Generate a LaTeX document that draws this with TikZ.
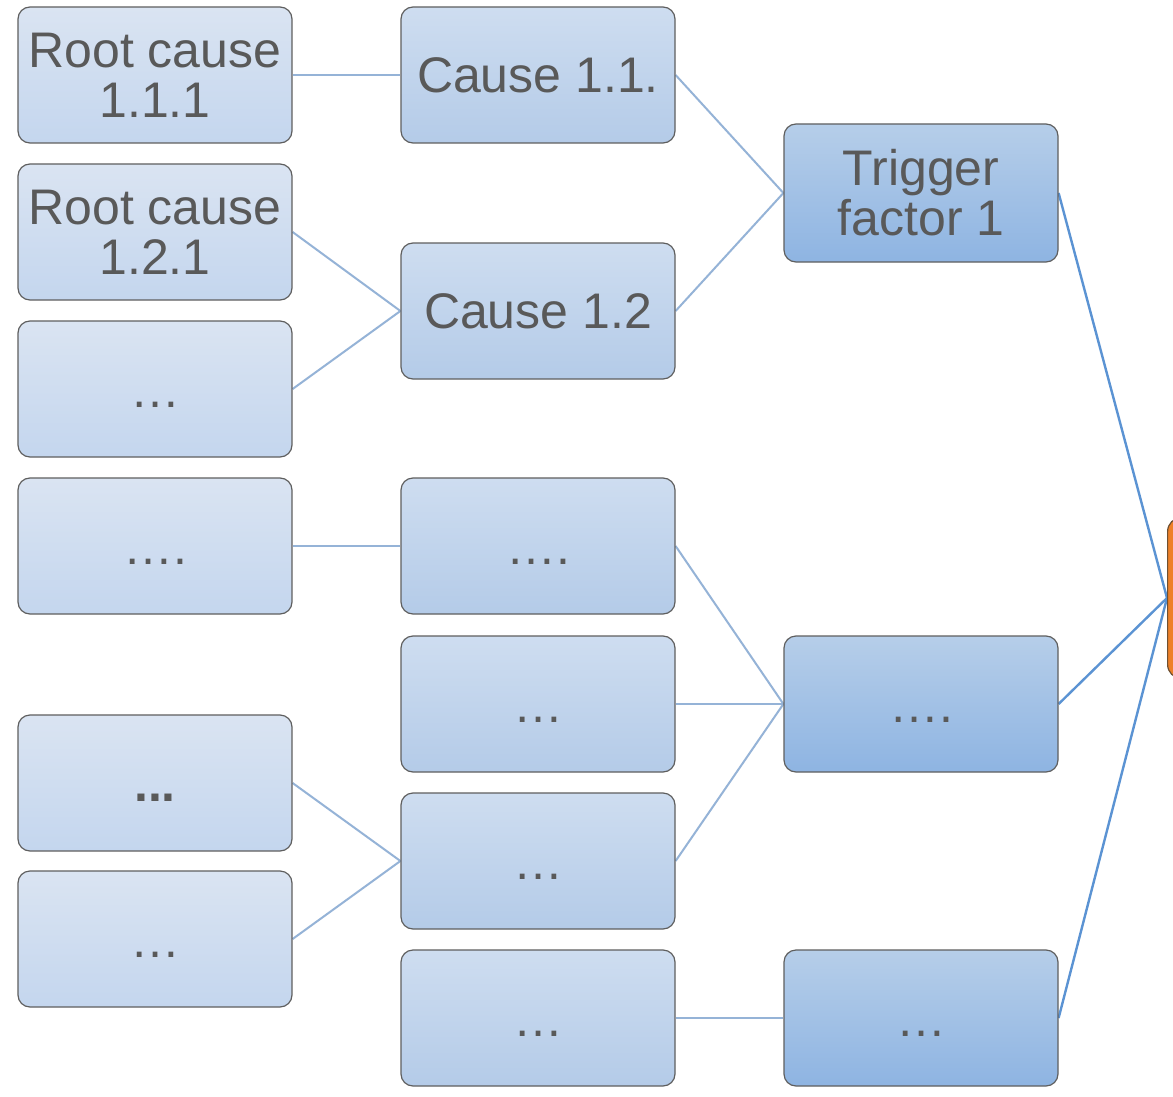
\documentclass[tikz,border=0pt]{standalone}
\usepackage{fontspec}
\setmainfont{Liberation Sans}
\usetikzlibrary{backgrounds}
\definecolor{txt}{HTML}{595959}
\definecolor{edge}{HTML}{5F5F5F}
\definecolor{linklight}{HTML}{95B3D7}
\definecolor{linkdark}{HTML}{5B93D3}
\tikzset{
  x=0.5pt, y=-0.5pt,
  box/.style={draw=edge, line width=0.6pt, rounded corners=6pt,
    minimum width=137pt, minimum height=68pt, inner sep=0pt,
    align=center, text=txt, font=\fontsize{25}{25}\selectfont},
  rootbox/.style={box, top color={rgb,255:red,218;green,228;blue,242}, bottom color={rgb,255:red,196;green,214;blue,238}},
  causebox/.style={box, top color={rgb,255:red,206;green,221;blue,240}, bottom color={rgb,255:red,180;green,203;blue,232}},
  factorbox/.style={box, top color={rgb,255:red,182;green,206;blue,233}, bottom color={rgb,255:red,142;green,180;blue,226}},
  dots/.style={text height=23pt, text depth=5pt},
  thinlink/.style={draw=linklight, line width=1pt},
  thicklink/.style={draw=linkdark, line width=1.2pt},
}
\begin{document}
\begin{tikzpicture}
\clip (0,0) rectangle (1173,1097);

% root causes
\node[rootbox] (r1) at (155,75) {Root cause\\1.1.1};
\node[rootbox] (r2) at (155,232) {Root cause\\1.2.1};
\node[rootbox, dots] (r3) at (155,389) {…};
\node[rootbox, dots] (r4) at (155,546) {….};
\node[rootbox, dots] (r5) at (155,783) {\textbf{...}};
\node[rootbox, dots] (r6) at (155,939) {…};

% causes
\node[causebox] (c1) at (538,75) {Cause 1.1.};
\node[causebox] (c2) at (538,311) {Cause 1.2};
\node[causebox, dots] (c3) at (538,546) {….};
\node[causebox, dots] (c4) at (538,704) {…};
\node[causebox, dots] (c5) at (538,861) {…};
\node[causebox, dots] (c6) at (538,1018) {…};

% trigger factors
\node[factorbox, minimum height=69pt] (f1) at (921,193) {Trigger\\factor 1};
\node[factorbox, dots] (f2) at (921,704) {….};
\node[factorbox, dots] (f3) at (921,1018) {…};

% consequence
\node[draw={rgb,255:red,110;green,80;blue,50}, line width=0.6pt, rounded corners=7pt,
  fill={rgb,255:red,238;green,128;blue,40}, minimum width=100pt, minimum height=80.5pt,
  anchor=west] (top) at (1167,598) {};

\begin{pgfonlayer}{background}
  \fill[white] (0,0) rectangle (1173,1097);
  \draw[thinlink] (r1.east) -- (c1.west);
  \draw[thinlink] (r2.east) -- (c2.west);
  \draw[thinlink] (r3.east) -- (c2.west);
  \draw[thinlink] (r4.east) -- (c3.west);
  \draw[thinlink] (r5.east) -- (c5.west);
  \draw[thinlink] (r6.east) -- (c5.west);
  \draw[thinlink] (c1.east) -- (f1.west);
  \draw[thinlink] (c2.east) -- (f1.west);
  \draw[thinlink] (c3.east) -- (f2.west);
  \draw[thinlink] (c4.east) -- (f2.west);
  \draw[thinlink] (c5.east) -- (f2.west);
  \draw[thinlink] (c6.east) -- (f3.west);
  \draw[thicklink] (f1.east) -- (top.west);
  \draw[thicklink] (f2.east) -- (top.west);
  \draw[thicklink] (f3.east) -- (top.west);
\end{pgfonlayer}
\end{tikzpicture}
\end{document}
